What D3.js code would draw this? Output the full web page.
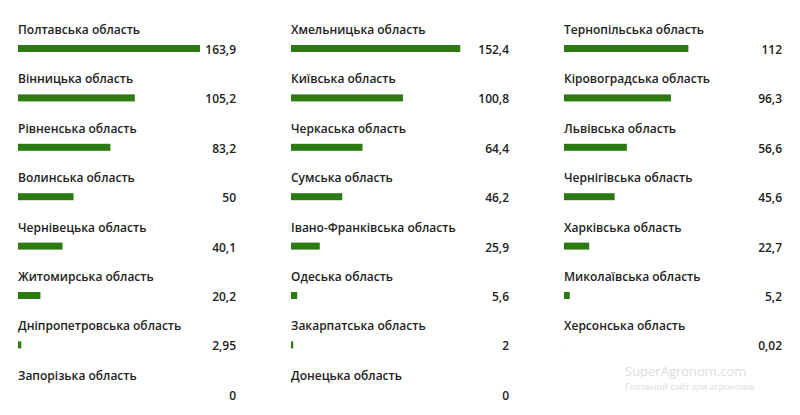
<!DOCTYPE html>
<html><head><meta charset="utf-8">
<script src="https://cdn.jsdelivr.net/npm/d3@7"></script>
<style>body{margin:0;background:#fff}</style>
</head><body>
<script>
var regions = [
  "Полтавська область","Хмельницька область","Тернопільська область",
  "Вінницька область","Київська область","Кіровоградська область",
  "Рівненська область","Черкаська область","Львівська область",
  "Волинська область","Сумська область","Чернігівська область",
  "Чернівецька область","Івано-Франківська область","Харківська область",
  "Житомирська область","Одеська область","Миколаївська область",
  "Дніпропетровська область","Закарпатська область","Херсонська область",
  "Запорізька область","Донецька область"];
var values = [163.9,152.4,112, 105.2,100.8,96.3, 83.2,64.4,56.6, 50,46.2,45.6,
  40.1,25.9,22.7, 20.2,5.6,5.2, 2.95,2,0.02, 0,0];
var valueLabels = ["163,9","152,4","112","105,2","100,8","96,3","83,2","64,4","56,6",
  "50","46,2","45,6","40,1","25,9","22,7","20,2","5,6","5,2","2,95","2","0,02","0","0"];

var svg = d3.select("body").append("svg").attr("width",800).attr("height",415);
var colX = d3.scalePoint().domain([0,1,2]).range([18,564]);
var rowY = d3.scaleLinear().domain([0,1]).range([0,49.4]);
var w = d3.scaleLinear().domain([0,163.9]).range([0,182]);

var g = svg.selectAll("g.item").data(regions).enter().append("g")
  .attr("transform", function(d,i){ return "translate("+colX(i%3)+","+rowY(Math.floor(i/3))+")"; })
  .style("font-family","'Open Sans', sans-serif").style("font-weight",600)
  .style("font-size","12px").attr("fill","#222");

g.append("text").attr("x",0).attr("y",34).text(function(d){return d;});
g.append("rect").attr("x",0).attr("y",45).attr("height",7)
  .attr("width", function(d,i){ return w(values[i]); }).attr("fill","#2b7a12");
g.append("text").attr("x",218).attr("y",54).attr("text-anchor","end")
  .text(function(d,i){ return valueLabels[i]; });

svg.append("text").attr("x",625).attr("y",376).attr("fill","#ddd")
  .style("font-family","'Open Sans', sans-serif").style("font-size","13px").text("SuperAgronom.com");
svg.append("text").attr("x",625).attr("y",390).attr("fill","#ddd")
  .style("font-family","'Open Sans', sans-serif").style("font-size","9px").text("Головний сайт для агрономів");
</script>
</body></html>
